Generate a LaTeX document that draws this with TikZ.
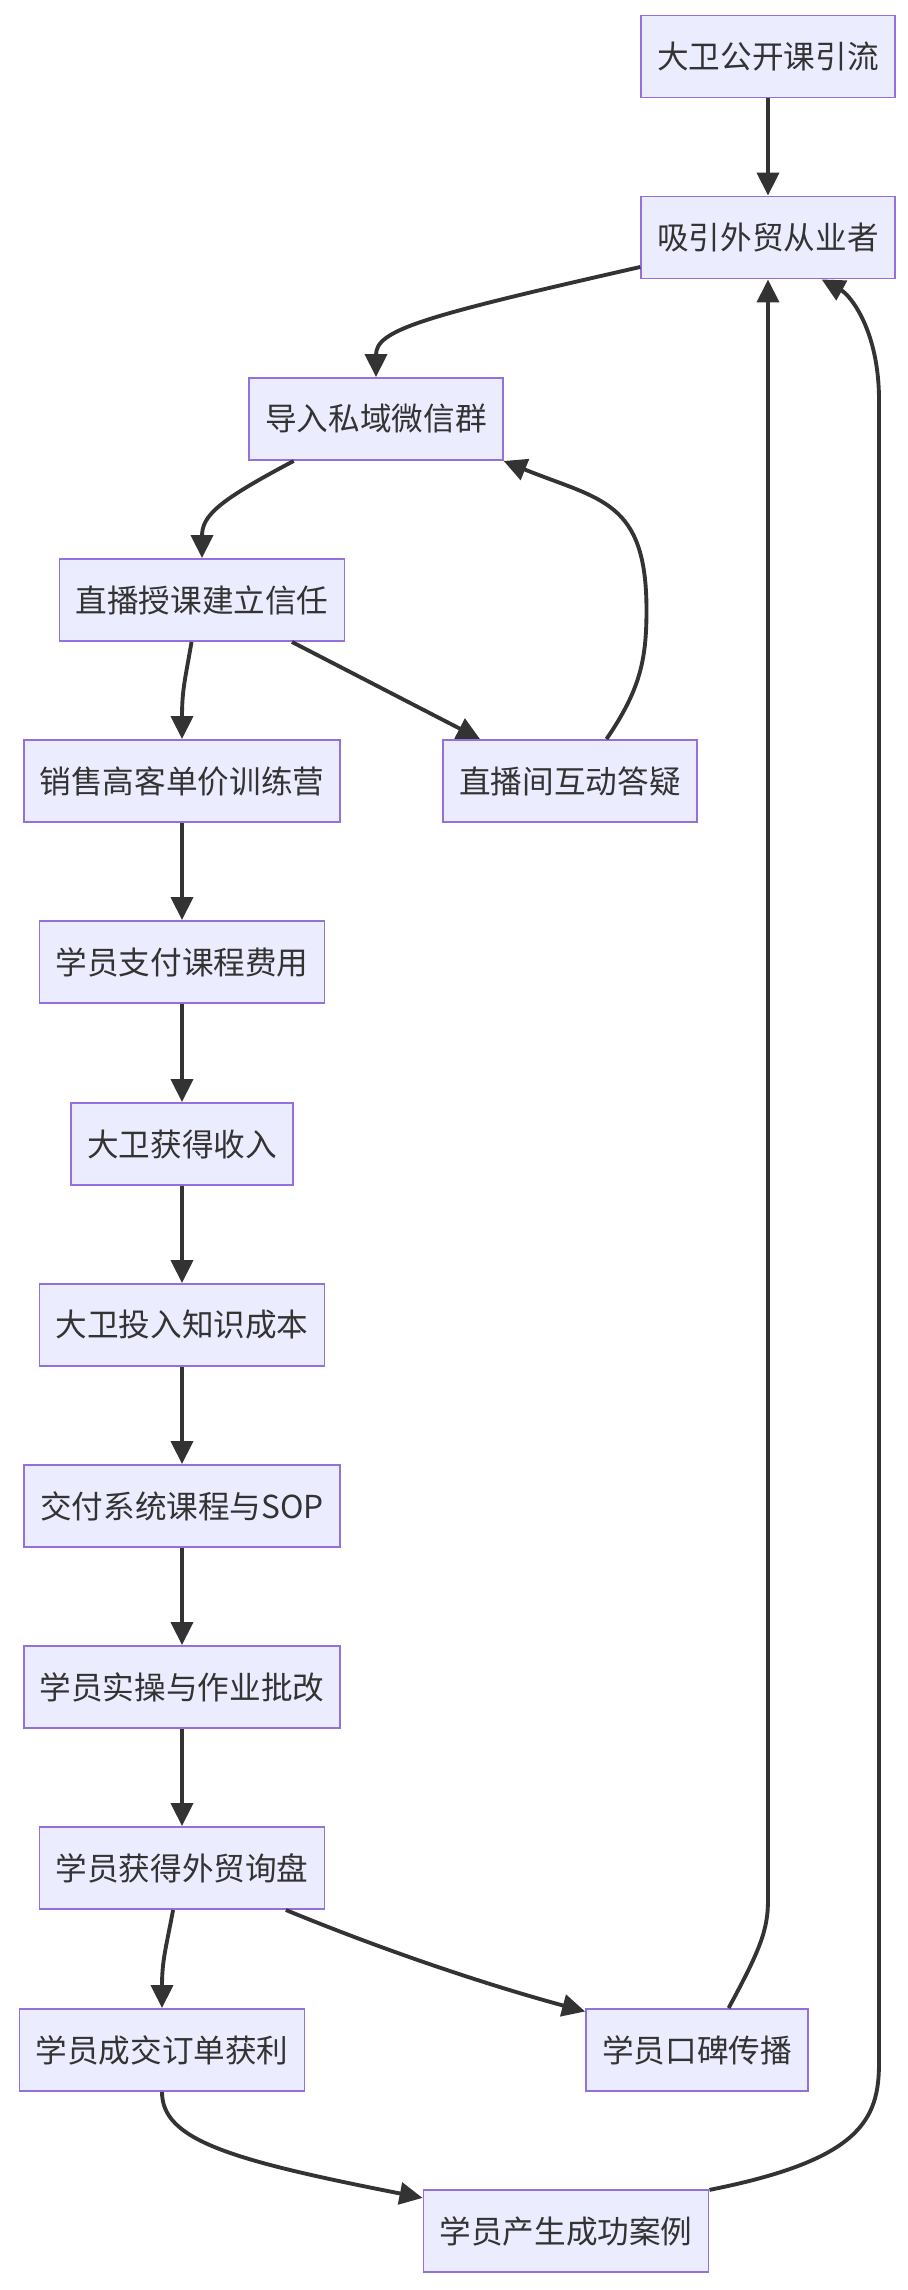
\documentclass[tikz,border=0pt]{standalone}
\usepackage{fontspec}
\setmainfont{Noto Sans CJK SC}
\usetikzlibrary{arrows.meta}
\definecolor{stepfill}{HTML}{ECECFF}
\definecolor{stepborder}{HTML}{9370DB}
\definecolor{darkline}{HTML}{333333}
\tikzset{
  box/.style={rectangle, draw=stepborder, fill=stepfill, line width=1.1pt, minimum height=1.64cm, inner xsep=0.32cm, text=darkline, font=\fontsize{18}{22}\selectfont},
  flow/.style={-{Triangle[length=0.46cm, width=0.44cm]}, line width=2.2pt, draw=darkline}
}

\begin{document}
\begin{tikzpicture}[x=0.02cm, y=-0.02cm]

\useasboundingbox (0,0) rectangle (908,2290);

\node[box] (opencourse) at (768, 56.5) {大卫公开课引流};
\node[box] (attract) at (768, 237.5) {吸引外贸从业者};
\node[box] (wechat) at (376, 419) {导入私域微信群};
\node[box] (livecourse) at (202, 600) {直播授课建立信任};
\node[box] (camp) at (182, 781) {销售高客单价训练营};
\node[box] (qa) at (570, 781) {直播间互动答疑};
\node[box] (pay) at (182, 962) {学员支付课程费用};
\node[box] (income) at (182, 1144) {大卫获得收入};
\node[box] (cost) at (182, 1325) {大卫投入知识成本};
\node[box] (deliver) at (182, 1506) {交付系统课程与SOP};
\node[box] (practice) at (182, 1687) {学员实操与作业批改};
\node[box] (inquiry) at (182, 1868) {学员获得外贸询盘};
\node[box] (deal) at (162, 2050) {学员成交订单获利};
\node[box] (wordofmouth) at (697, 2050) {学员口碑传播};
\node[box] (casestudy) at (566, 2231) {学员产生成功案例};

\draw[flow] (opencourse) -- (attract);
\draw[flow] (attract.193) .. controls (420,317) and (376,330) .. (wechat.north);
\draw[flow] (wechat.207) .. controls (220,500) and (202,515) .. (livecourse.north);
\draw[flow] (livecourse.256) .. controls (185,680) and (182,690) .. (camp.north);
\draw[flow] (livecourse.-25) -- (qa.155);
\draw[flow] (qa.49) .. controls (640,690) and (646.5,660) .. (646.5,610)
  .. controls (646.5,500) and (600,500) .. (wechat.south east);
\draw[flow] (camp) -- (pay);
\draw[flow] (pay) -- (income);
\draw[flow] (income) -- (cost);
\draw[flow] (cost) -- (deliver);
\draw[flow] (deliver) -- (practice);
\draw[flow] (practice) -- (inquiry);
\draw[flow] (inquiry.258) .. controls (166,1948) and (162,1960) .. (deal.north);
\draw[flow] (inquiry.-22) .. controls (383,1950) and (484,1984) .. (wordofmouth.161);
\draw[flow] (wordofmouth.53) .. controls (760,1950) and (768,1930) .. (768,1900) -- (attract.south);
\draw[flow] (deal.south) .. controls (162,2140) and (230,2160) .. (casestudy.167);
\draw[flow] (casestudy.16) .. controls (860,2160) and (879,2120) .. (879,2063)
  -- (879,400) .. controls (879,330) and (850,295) .. (attract.-38);

\end{tikzpicture}
\end{document}
